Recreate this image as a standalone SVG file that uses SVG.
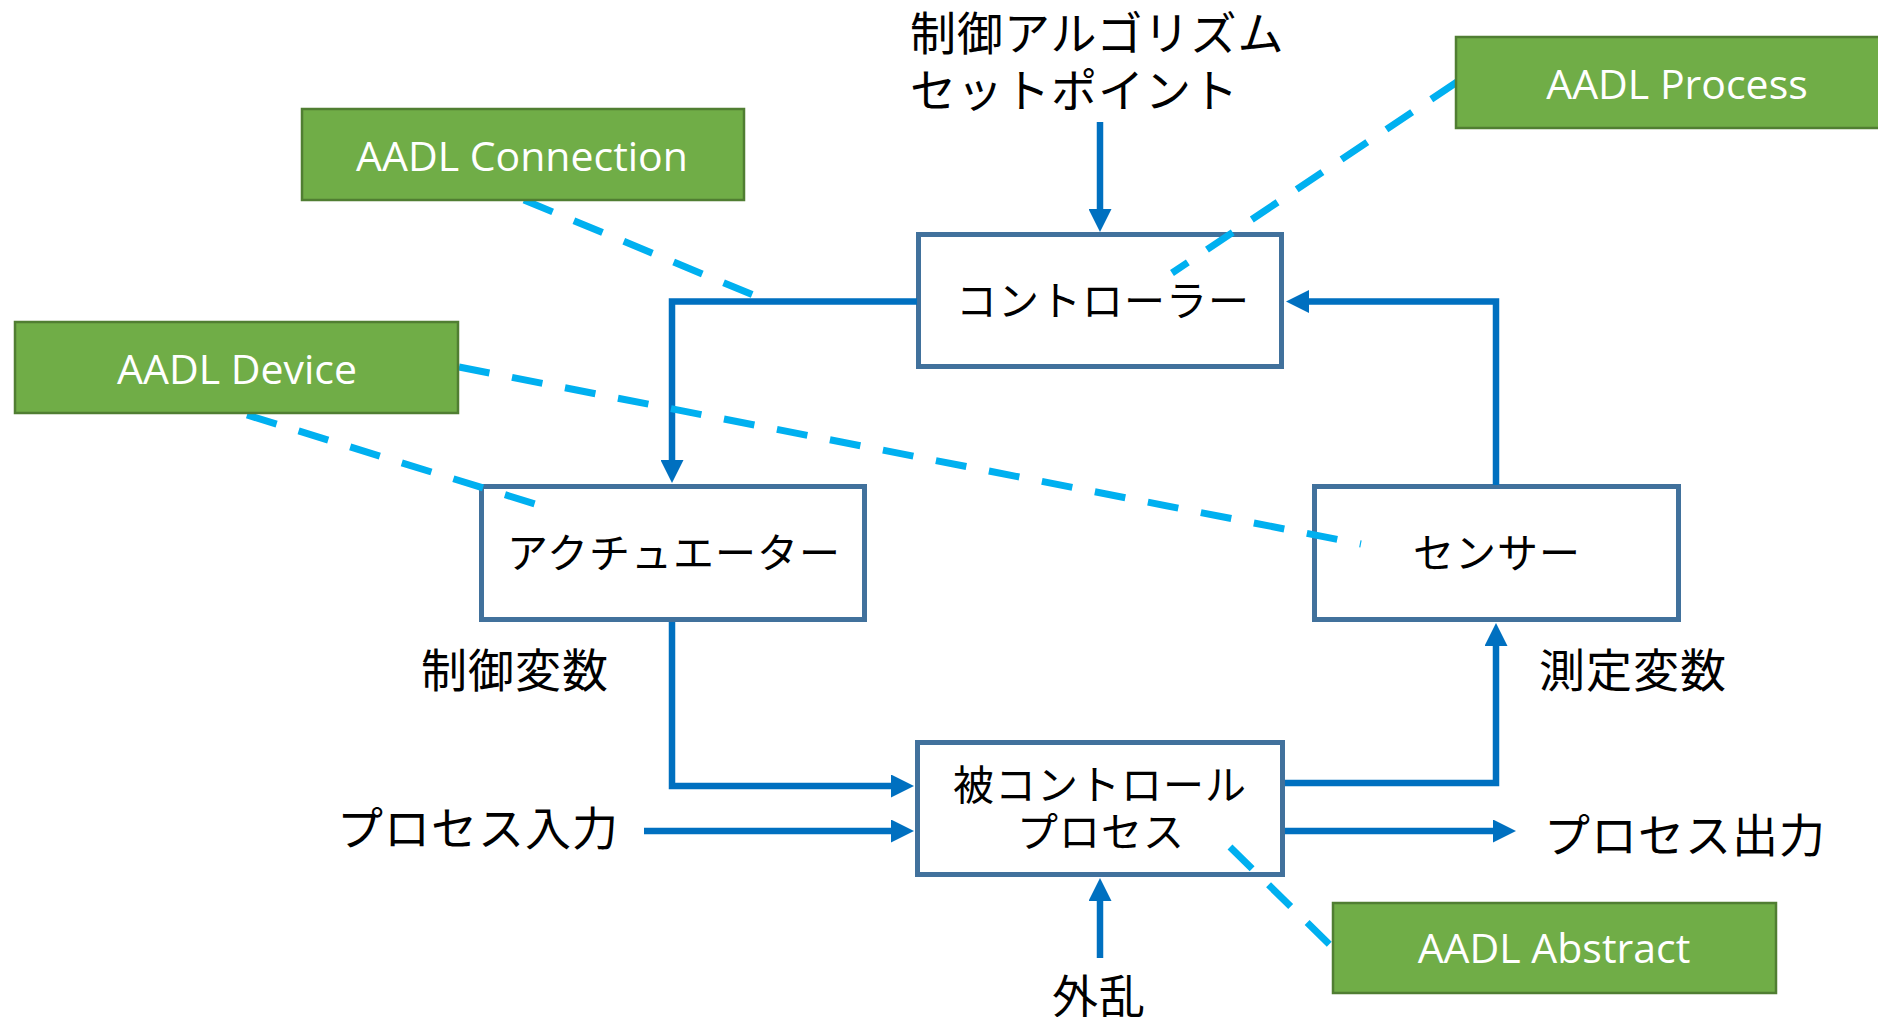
<svg xmlns="http://www.w3.org/2000/svg" width="1878" height="1017" viewBox="0 0 1878 1017">
  <style>
    .box { fill: #FFFFFF; stroke: #41719C; stroke-width: 5; }
    .aadl { fill: #70AD47; stroke: #507E32; stroke-width: 2.5; }
    .jp { font-family: "Noto Sans CJK JP", "Noto Sans", sans-serif; fill: #000000; }
    .boxtxt { font-size: 41px; text-anchor: middle; letter-spacing: 1px; }
    .lbl { font-size: 46px; letter-spacing: 1px; }
    .en { font-family: "Open Sans", "Liberation Sans", sans-serif; font-size: 41px; fill: #FFFFFF; text-anchor: middle; }
    .flow { fill: none; stroke: #0070C0; stroke-width: 6.5; }
    .dash { fill: none; stroke: #00B0F0; stroke-width: 7; stroke-dasharray: 31 23; }
  </style>
  <defs>
    <marker id="arrow" viewBox="0 0 23 23" refX="1" refY="11.5" markerWidth="23" markerHeight="23" markerUnits="userSpaceOnUse" orient="auto">
      <path d="M0,0 L23,11.5 L0,23 z" fill="#0070C0"/>
    </marker>
  </defs>
  <rect width="1878" height="1017" fill="#FFFFFF"/>

  <g id="controller">
    <rect class="box" x="918.5" y="234.5" width="363" height="132"/>
    <text class="jp boxtxt" x="1103" y="316">コントローラー</text>
  </g>
  <g id="actuator">
    <rect class="box" x="481.5" y="486.5" width="383" height="133"/>
    <text class="jp boxtxt" x="674" y="568">アクチュエーター</text>
  </g>
  <g id="sensor">
    <rect class="box" x="1314.5" y="486.5" width="364" height="133"/>
    <text class="jp boxtxt" x="1497" y="568">センサー</text>
  </g>
  <g id="controlled-process">
    <rect class="box" x="917.5" y="742.5" width="365" height="132"/>
    <text class="jp boxtxt" x="1100" y="800">被コントロール</text>
    <text class="jp boxtxt" x="1101" y="847">プロセス</text>
  </g>

  <g id="connectors">
    <path class="flow" d="M1100,122 V210" marker-end="url(#arrow)"/>
    <path class="flow" d="M917,301.5 H672 V461" marker-end="url(#arrow)"/>
    <path class="flow" d="M1496,485 V301.5 H1308" marker-end="url(#arrow)"/>
    <path class="flow" d="M672,622 V786 H892" marker-end="url(#arrow)"/>
    <path class="flow" d="M644,831 H892" marker-end="url(#arrow)"/>
    <path class="flow" d="M1100,958 V900" marker-end="url(#arrow)"/>
    <path class="flow" d="M1285,783 H1496 V645" marker-end="url(#arrow)"/>
    <path class="flow" d="M1285,831 H1494" marker-end="url(#arrow)"/>
  </g>

  <g id="labels">
    <text class="jp lbl" x="910" y="50">制御アルゴリズム</text>
    <text class="jp lbl" x="910" y="107">セットポイント</text>
    <text class="jp lbl" x="421" y="687">制御変数</text>
    <text class="jp lbl" x="1539" y="687">測定変数</text>
    <text class="jp lbl" x="337" y="845">プロセス入力</text>
    <text class="jp lbl" x="1544" y="852">プロセス出力</text>
    <text class="jp lbl" x="1052" y="1013">外乱</text>
  </g>

  <g id="aadl-links">
    <path class="dash" d="M1457,82 L1172,273"/>
    <path class="dash" d="M524,200 L758,297"/>
    <path class="dash" d="M459,367 L1361,544"/>
    <path class="dash" d="M247,415 L548,508"/>
    <path class="dash" d="M1230,847 L1333,948"/>
  </g>

  <g id="aadl-connection">
    <rect class="aadl" x="302" y="109" width="442" height="91"/>
    <text class="en" x="522" y="171">AADL Connection</text>
  </g>
  <g id="aadl-process">
    <rect class="aadl" x="1456" y="37" width="443" height="91"/>
    <text class="en" x="1677" y="99">AADL Process</text>
  </g>
  <g id="aadl-device">
    <rect class="aadl" x="15" y="322" width="443" height="91"/>
    <text class="en" x="237" y="384">AADL Device</text>
  </g>
  <g id="aadl-abstract">
    <rect class="aadl" x="1333" y="903" width="443" height="90"/>
    <text class="en" x="1554" y="963">AADL Abstract</text>
  </g>
</svg>
